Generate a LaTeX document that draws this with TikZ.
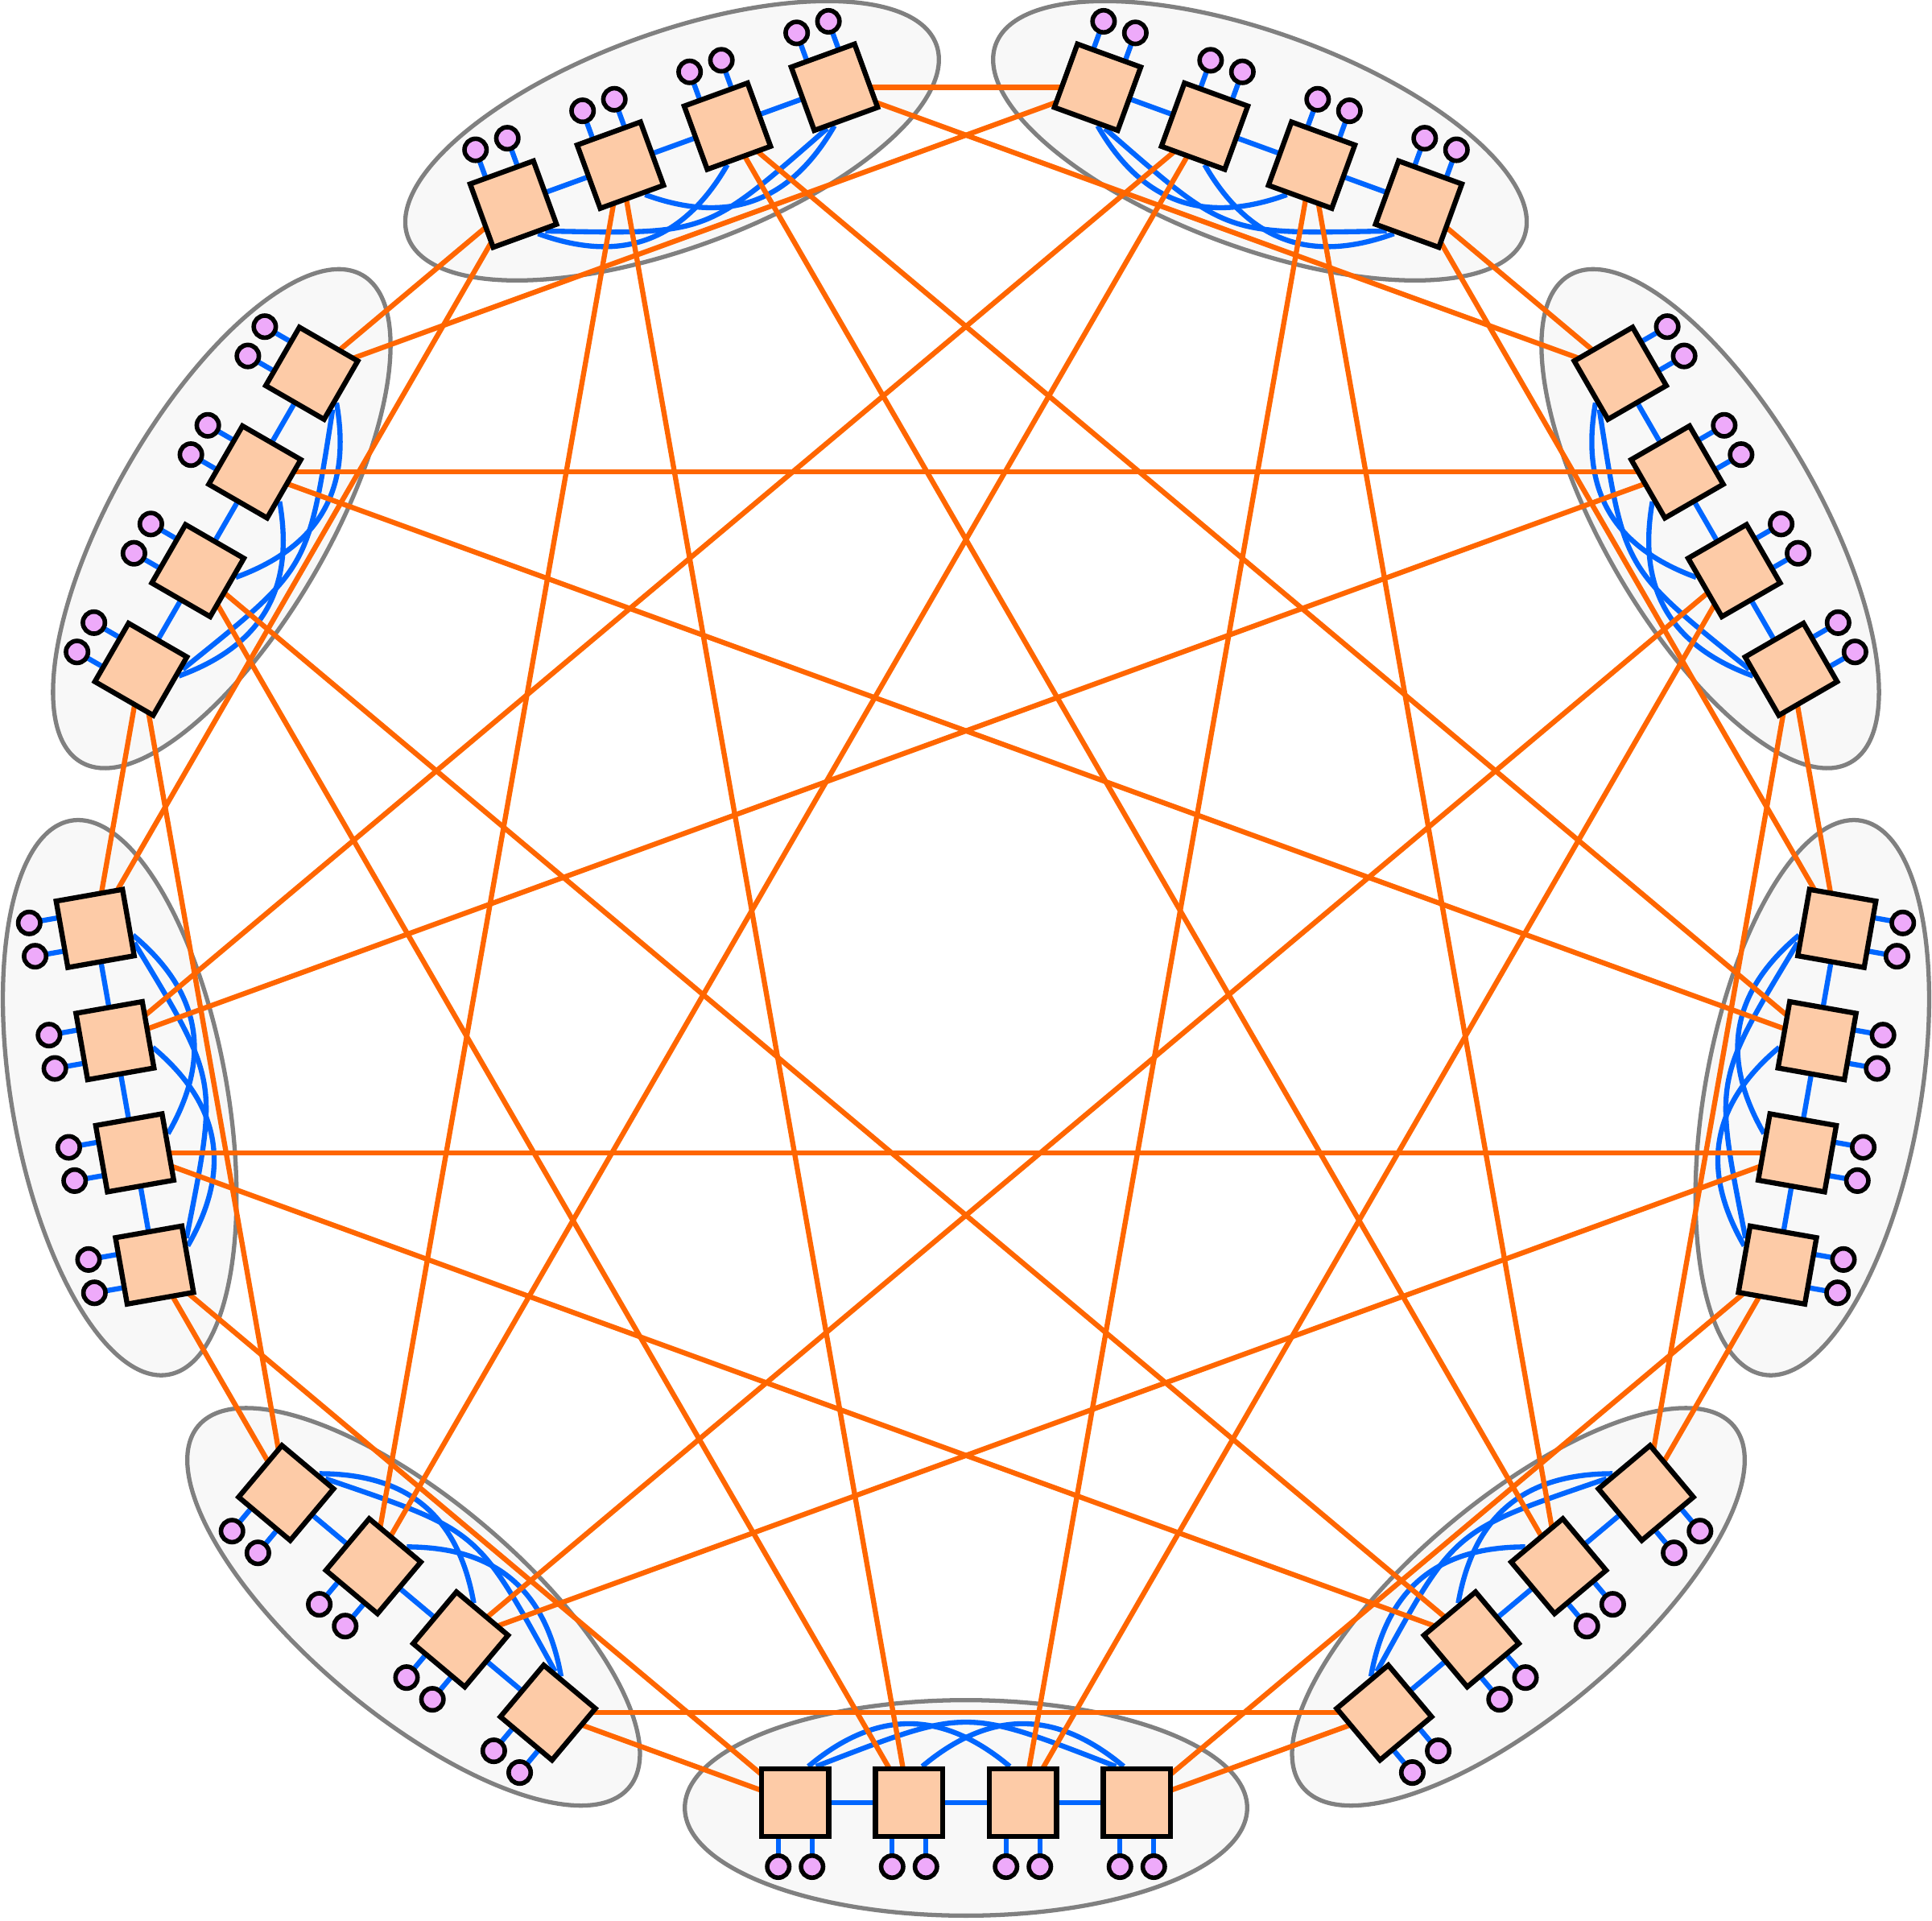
\documentclass[tikz,border=0pt]{standalone}
\usepackage{tikz}
\usetikzlibrary{shapes.geometric}
\definecolor{glob}{HTML}{FF6600}
\definecolor{loc}{HTML}{0066FF}
\definecolor{rfill}{HTML}{FDCBA7}
\definecolor{tfill}{HTML}{EEAAFA}
\definecolor{gfill}{HTML}{F8F8F8}
\pgfdeclarelayer{bg}
\pgfdeclarelayer{links}
\pgfsetlayers{bg,links,main}

\begin{document}
\begin{tikzpicture}[
    router/.style={draw, line width=1.8pt, fill=rfill, minimum size=0.837cm, inner sep=0pt, transform shape},
    term/.style={circle, draw, line width=1.6pt, fill=tfill, minimum size=0.274cm, inner sep=0pt},
    group/.style={ellipse, draw=gray, fill=gfill, line width=1.5pt, minimum width=6.986cm, minimum height=2.677cm, inner sep=0pt, transform shape},
    local/.style={loc, line width=1.8pt},
    global/.style={glob, line width=1.8pt}]
  \useasboundingbox (-12,-12.07) rectangle (12,11.78);
  % groups
  \foreach \g in {0,...,8}{
    \begin{scope}[rotate=40*\g]
      \begin{pgfonlayer}{bg}
        \node[group] (grp\g) at (0,-10.675) {};
      \end{pgfonlayer}
      \foreach \r in {0,...,3}{
        \node[router] (r\g\r) at ({(1.5-\r)*1.415},-10.61) {};
        \node[term] (ta\g\r) at ({(1.5-\r)*1.415-0.21},-11.405) {};
        \node[term] (tb\g\r) at ({(1.5-\r)*1.415+0.21},-11.405) {};
        \begin{pgfonlayer}{links}
          \draw[local] (ta\g\r.center) -- +(0,0.5);
          \draw[local] (tb\g\r.center) -- +(0,0.5);
        \end{pgfonlayer}
      }
      % local links
      \begin{pgfonlayer}{links}
        \draw[local] (r\g0.center) -- (r\g1.center) -- (r\g2.center) -- (r\g3.center);
        \foreach \a/\b in {0/2, 1/3}
          \draw[local] (r\g\a.110) .. controls +(-0.843,0.707) and +(0.843,0.707) .. (r\g\b.70);
        \draw[local] (r\g0.120) .. controls +(-1.9,0.733) and +(1.9,0.733) .. (r\g3.60);
      \end{pgfonlayer}
    \end{scope}
  }
  % global links
  \begin{pgfonlayer}{links}
    \foreach \g in {0,...,8}
      \foreach \k/\r/\s in {1/0/3, 2/0/3, 3/1/2, 4/1/2}{
        \pgfmathtruncatemacro\h{mod(\g+\k,9)}
        \draw[global] (r\g\r.center) -- (r\h\s.center);
      }
  \end{pgfonlayer}
\end{tikzpicture}
\end{document}
